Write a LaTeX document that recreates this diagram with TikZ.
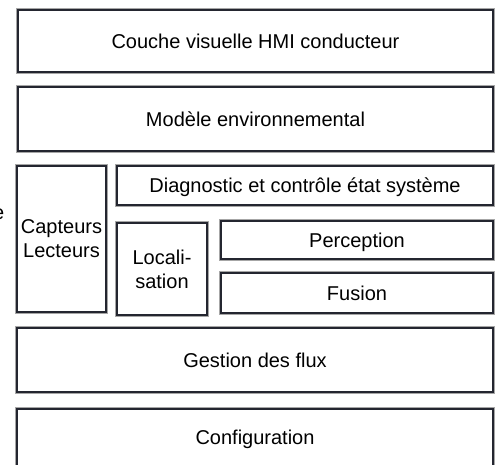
\documentclass[tikz,border=0pt]{standalone}
\usepackage{fontspec}
\setmainfont{Liberation Sans}
\definecolor{edge}{RGB}{36,38,48}
\begin{document}
\begin{tikzpicture}[x=1pt,y=-1pt,
  boxbase/.style={draw=edge, line width=1.6pt, fill=white,
    rectangle, inner sep=0pt, anchor=center,
    font=\fontsize{20}{24}\selectfont},
  layer/.style={boxbase, text height=14.4pt, text depth=0pt},
  shadowed/.style={preaction={draw=black!35, line width=3.2pt}},
  multi/.style={boxbase, align=center},
  plain/.style={inner sep=0pt, font=\fontsize{20}{24}\selectfont}]
\path[use as bounding box] (0,0) rectangle (496,465);
\clip (0,0) rectangle (496,465);
\node[layer, shadowed, minimum width=475pt, minimum height=62pt] (hmi) at (255.5,41) {Couche visuelle HMI conducteur};
\node[layer, shadowed, minimum width=475pt, minimum height=64pt] (env) at (255.5,119) {Modèle environnemental};
\node[multi, shadowed, minimum width=89pt, minimum height=146pt] (capt) at (61.5,239) {Capteurs\\Lecteurs};
\node[layer, shadowed, minimum width=376pt, minimum height=39pt] (diag) at (305,185.5) {Diagnostic et contrôle état système};
\node[multi, shadowed, minimum width=90pt, minimum height=92pt] (loc) at (162,269) {Locali-\\sation};
\node[layer, shadowed, minimum width=272pt, minimum height=38pt] (perc) at (357,240) {Perception};
\node[layer, shadowed, minimum width=272pt, minimum height=40pt] (fus) at (357,293) {Fusion};
\node[layer, shadowed, minimum width=476pt, minimum height=64pt] (flux) at (255,360) {Gestion des flux};
\node[layer, shadowed, minimum width=476pt, minimum height=72pt] (conf) at (255,445) {};
\node[plain, text height=14.4pt, text depth=0pt] (conftxt) at (255,437) {Configuration};
\node[plain, anchor=base east] (frag) at (4.5,220) {e};
\end{tikzpicture}
\end{document}
